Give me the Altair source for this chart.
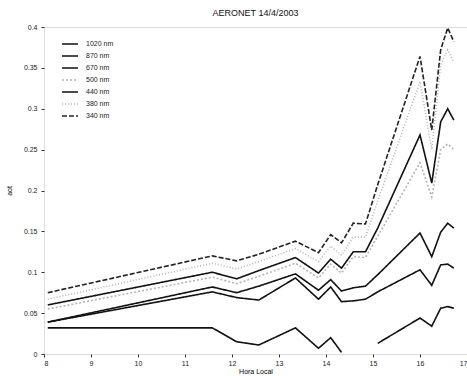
import altair as alt
import pandas as pd

# Local hour of each AERONET measurement
hours = [8.08, 11.58, 12.1, 12.57, 13.35, 13.84, 14.1, 14.33, 14.58, 14.84, 15.1, 16.0, 16.25, 16.44, 16.59, 16.72]

wavelengths = ["1020 nm", "870 nm", "670 nm", "500 nm", "440 nm", "380 nm", "340 nm"]

aot_1020 = [0.032, 0.032, 0.015, 0.011, 0.032, 0.007, 0.020, 0.002, None, None, 0.013, 0.044, 0.034, 0.056, 0.058, 0.056]
aot_870 = [0.039, 0.076, 0.069, 0.066, 0.093, 0.067, 0.082, 0.064, 0.065, 0.067, 0.076, 0.103, 0.084, 0.109, 0.110, 0.105]
aot_670 = [0.039, 0.082, 0.075, 0.083, 0.098, 0.078, 0.091, 0.077, 0.081, 0.083, 0.097, 0.148, 0.119, 0.149, 0.160, 0.154]
aot_500 = [0.055, 0.094, 0.086, 0.095, 0.111, 0.093, 0.110, 0.099, 0.119, 0.118, 0.144, 0.234, 0.192, 0.250, 0.257, 0.250]
aot_440 = [0.060, 0.100, 0.092, 0.102, 0.118, 0.099, 0.116, 0.105, 0.125, 0.125, 0.154, 0.268, 0.209, 0.284, 0.300, 0.286]
aot_380 = [0.067, 0.111, 0.104, 0.113, 0.129, 0.113, 0.132, 0.121, 0.143, 0.143, 0.187, 0.333, 0.250, 0.354, 0.372, 0.357]
aot_340 = [0.075, 0.120, 0.114, 0.122, 0.138, 0.124, 0.146, 0.136, 0.160, 0.159, 0.207, 0.364, 0.274, 0.372, 0.399, 0.382]

series = [aot_1020, aot_870, aot_670, aot_500, aot_440, aot_380, aot_340]

line_colors = ["#111111", "#111111", "#111111", "#b5b5b5", "#111111", "#b5b5b5", "#222222"]
line_dashes = [[1, 0], [1, 0], [1, 0], [2, 2], [1, 0], [1, 2], [5, 2]]

x_ticks = [8, 9, 10, 11, 12, 13, 14, 15, 16, 17]
y_ticks = [0, 0.05, 0.1, 0.15, 0.2, 0.25, 0.3, 0.35, 0.4]

rows = []
for wl, vals in zip(wavelengths, series):
    seg = 0
    for h, v in zip(hours, vals):
        if v is None:
            seg += 1
            continue
        rows.append({"hour": h, "aot": v, "wl": wl, "seg": f"{wl}-{seg}"})
df = pd.DataFrame(rows)

FONT = "Liberation Sans"

legend_kw = dict(
    title=None,
    orient="none",
    legendX=17,
    legendY=8,
    symbolType="stroke",
    symbolSize=256,
    symbolStrokeWidth=1.5,
    labelFontSize=7,
    labelFont=FONT,
    labelColor="#222222",
    rowPadding=-6,
    labelOffset=7,
    padding=0,
)

chart = (
    alt.Chart(df)
    .mark_line(strokeWidth=1.6)
    .encode(
        x=alt.X(
            "hour:Q",
            scale=alt.Scale(domain=[8, 17], nice=False, zero=False),
            axis=alt.Axis(
                title="Hora Local",
                values=x_ticks,
                format="d",
                grid=False,
                domain=False,
                tickSize=3,
                tickColor="#333333",
                labelFontSize=7,
                labelFont=FONT,
                labelColor="#222222",
                labelPadding=2,
                titleFontSize=7,
                titleFont=FONT,
                titleFontWeight="normal",
                titlePadding=1,
                labelFlush=True,
            ),
        ),
        y=alt.Y(
            "aot:Q",
            scale=alt.Scale(domain=[0, 0.4], nice=False),
            axis=alt.Axis(
                title="aot",
                values=y_ticks,
                format=".2~f",
                grid=False,
                domain=False,
                tickSize=3,
                tickColor="#333333",
                labelFontSize=7,
                labelFont=FONT,
                labelColor="#222222",
                labelPadding=4,
                titleFontSize=7,
                titleFont=FONT,
                titleFontWeight="normal",
                titlePadding=11,
            ),
        ),
        color=alt.Color(
            "wl:N",
            scale=alt.Scale(domain=wavelengths, range=line_colors),
            legend=alt.Legend(**legend_kw),
        ),
        strokeDash=alt.StrokeDash(
            "wl:N",
            scale=alt.Scale(domain=wavelengths, range=line_dashes),
            legend=alt.Legend(**legend_kw),
        ),
        detail="seg:N",
        order="hour:Q",
    )
    .properties(
        width=423,
        height=327,
        title=alt.TitleParams("AERONET 14/4/2003", fontSize=9, font=FONT, fontWeight="normal", anchor="middle", offset=5, color="#111111"),
        autosize="none",
        padding={"left": 44, "top": 27, "right": 0, "bottom": 22},
    )
    .configure_view(stroke=None)
    .configure(background="white")
)

chart.save("out.html", embed_options={"renderer": "svg", "actions": False})
